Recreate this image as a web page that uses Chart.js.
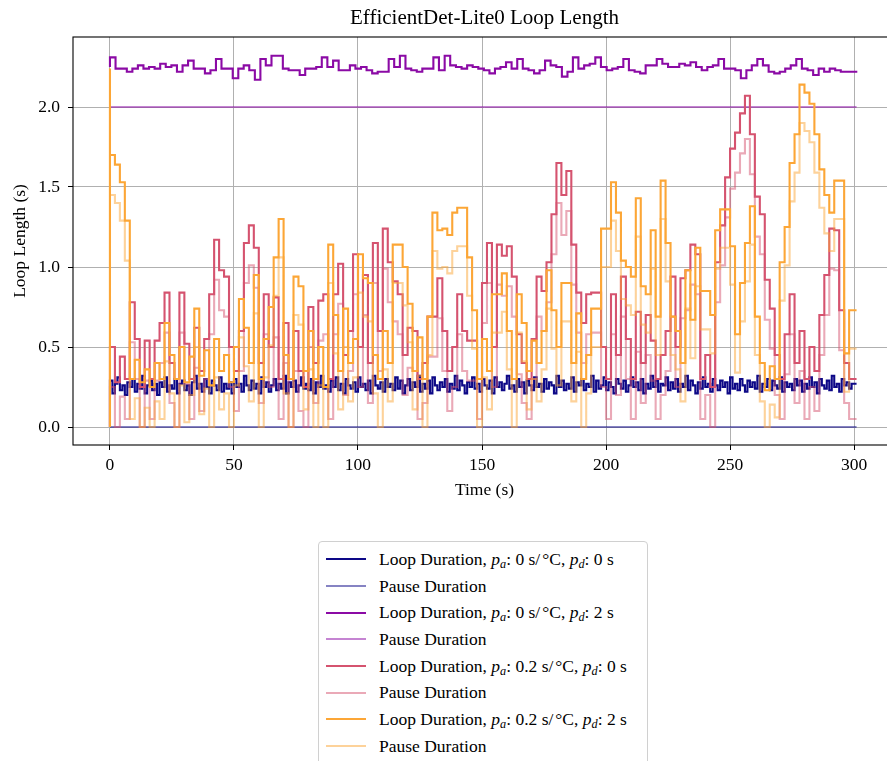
<!DOCTYPE html>
<html>
<head>
<meta charset="UTF-8">
<title>EfficientDet-Lite0 Loop Length</title>
<script src="https://cdn.jsdelivr.net/npm/chart.js"></script>
<style>
  body { margin: 0; background: #fff; }
  #wrap { position: relative; width: 887px; height: 761px; overflow: hidden; }
  #loopChart { position: absolute; left: 0; top: 0; }
  #legend {
    position: absolute; left: 318px; top: 541px; width: 330px; height: 240px;
    border: 1px solid #d0d0d0; border-radius: 4px; background: rgba(255,255,255,0.8);
    padding-top: 4px; box-sizing: border-box;
  }
  .row {
    height: 26.7px; display: flex; align-items: center; color: #000; white-space: nowrap;
    font-family: "Liberation Serif", "DejaVu Serif", serif; font-size: 17.5px;
  }
  .swatch { width: 40px; height: 0; border-top: 2.5px solid; margin: 0 13px 0 7px; }
  .row sub { font-size: 70%; font-style: italic; vertical-align: -0.25em; line-height: 0; }
  .deg { margin-left: 2px; }
</style>
</head>
<body>
<div id="wrap">
  <canvas id="loopChart" width="900" height="520"></canvas>
  <div id="legend"></div>
</div>
<script>
// tick positions
const xTicks = [0, 50, 100, 150, 200, 250, 300];
const yTicks = [0, 0.5, 1.0, 1.5, 2.0];

// p_a = 0, p_d = 0: loop length every second, pause is always 0
const navyStep = 1;
const navyLoop = [
  0.24,0.29,0.21,0.27,0.31,0.23,0.26,0.20,0.28,0.25,
  0.30,0.22,0.27,0.24,0.32,0.21,0.26,0.29,0.23,0.27,
  0.20,0.28,0.25,0.31,0.22,0.26,0.24,0.30,0.21,0.27,
  0.29,0.23,0.26,0.20,0.28,0.32,0.24,0.27,0.22,0.30,
  0.25,0.21,0.29,0.26,0.23,0.31,0.22,0.27,0.24,0.28,
  0.21,0.30,0.25,0.27,0.22,0.32,0.26,0.23,0.29,0.24,
  0.27,0.21,0.31,0.25,0.28,0.22,0.26,0.30,0.23,0.27,
  0.24,0.32,0.21,0.28,0.25,0.29,0.22,0.26,0.31,0.24,
  0.27,0.23,0.30,0.21,0.28,0.25,0.32,0.24,0.26,0.22,
  0.29,0.25,0.31,0.23,0.27,0.21,0.30,0.26,0.24,0.28,
  0.22,0.31,0.25,0.27,0.23,0.29,0.21,0.32,0.26,0.24,
  0.28,0.22,0.30,0.25,0.27,0.23,0.31,0.24,0.29,0.21,
  0.26,0.30,0.23,0.28,0.25,0.32,0.22,0.27,0.24,0.29,
  0.21,0.31,0.26,0.23,0.28,0.25,0.30,0.22,0.27,0.24,
  0.32,0.23,0.29,0.26,0.21,0.28,0.25,0.31,0.24,0.27,
  0.22,0.30,0.26,0.24,0.29,0.21,0.31,0.25,0.28,0.23,
  0.27,0.32,0.24,0.26,0.22,0.30,0.25,0.28,0.21,0.29,
  0.26,0.23,0.31,0.25,0.27,0.22,0.30,0.24,0.28,0.26,
  0.21,0.32,0.25,0.29,0.23,0.27,0.24,0.31,0.22,0.28,
  0.26,0.30,0.23,0.27,0.25,0.32,0.22,0.29,0.24,0.26,
  0.31,0.23,0.28,0.25,0.21,0.30,0.27,0.24,0.29,0.22,
  0.26,0.31,0.25,0.28,0.23,0.30,0.21,0.27,0.24,0.32,
  0.25,0.29,0.22,0.27,0.26,0.31,0.23,0.28,0.24,0.30,
  0.22,0.27,0.25,0.32,0.23,0.29,0.26,0.21,0.28,0.24,
  0.31,0.25,0.27,0.22,0.30,0.26,0.23,0.29,0.25,0.28,
  0.21,0.31,0.24,0.27,0.23,0.30,0.26,0.22,0.29,0.25,
  0.28,0.24,0.32,0.22,0.27,0.25,0.30,0.23,0.29,0.26,
  0.24,0.31,0.22,0.28,0.25,0.27,0.23,0.30,0.26,0.29,
  0.22,0.27,0.24,0.31,0.25,0.28,0.21,0.30,0.26,0.24,
  0.29,0.23,0.32,0.25,0.27,0.22,0.30,0.26,0.28,0.24,
  0.27
];
const constantSpan = [0, 301];
const navyPause = [0, 0];

// p_a = 0, p_d = 2: one value per loop, laid out back to back
const purpleLoop = [
  2.25,2.31,2.24,2.24,2.22,2.24,2.26,2.24,2.25,2.24,2.27,2.25,2.26,2.22,2.26,2.29,2.24,2.24,2.21,2.23,
  2.30,2.24,2.24,2.18,2.24,2.26,2.23,2.17,2.30,2.26,2.32,2.32,2.24,2.23,2.23,2.20,2.24,2.24,2.25,2.31,
  2.25,2.29,2.23,2.23,2.26,2.24,2.25,2.23,2.21,2.22,2.22,2.30,2.25,2.32,2.24,2.23,2.22,2.24,2.24,2.31,
  2.23,2.32,2.26,2.25,2.24,2.26,2.25,2.24,2.23,2.21,2.24,2.25,2.28,2.24,2.30,2.24,2.23,2.21,2.23,2.29,
  2.26,2.25,2.19,2.22,2.31,2.24,2.26,2.27,2.31,2.25,2.23,2.24,2.25,2.30,2.23,2.22,2.21,2.26,2.26,2.30,
  2.27,2.25,2.25,2.27,2.26,2.28,2.25,2.23,2.25,2.26,2.30,2.24,2.24,2.23,2.18,2.23,2.26,2.30,2.26,2.22,
  2.21,2.22,2.24,2.26,2.30,2.24,2.23,2.20,2.24,2.22,2.24,2.23,2.22,2.22
];
const purplePause = [2, 2];

// p_a = 0.2 s/°C runs, sampled every 2 s
const warmStep = 2;
const pinkLoop = [
  0.30,0.50,0.28,0.44,0.30,0.78,0.55,0.25,0.54,0.30,
  0.54,0.65,0.84,0.40,0.30,0.84,0.52,0.30,0.62,0.35,
  0.55,0.83,1.17,0.98,0.94,0.50,0.35,0.60,1.15,1.26,
  1.12,0.40,0.83,0.50,0.81,0.30,0.65,0.30,0.60,0.35,
  0.25,0.75,0.40,0.79,0.83,0.30,0.83,1.02,0.45,0.60,
  1.08,0.50,0.95,0.40,1.15,0.60,1.24,1.03,0.91,0.83,
  0.45,0.62,0.60,0.30,0.40,0.69,0.69,0.93,0.60,0.35,
  0.50,0.83,0.60,0.54,0.54,0.30,0.90,1.15,0.50,1.14,
  1.07,1.13,0.94,0.58,0.40,0.30,0.55,0.94,0.85,1.03,
  1.33,1.65,1.45,1.60,1.14,0.84,0.65,0.83,0.84,0.84,
  0.50,0.30,0.83,0.45,0.94,0.55,0.30,0.72,0.40,0.70,
  0.54,0.30,0.45,0.60,0.94,0.50,0.93,0.98,1.14,1.08,
  0.30,0.45,0.25,1.03,1.26,1.56,1.74,1.84,1.96,2.07,
  1.83,1.44,1.33,0.92,0.74,0.45,0.30,0.58,0.83,0.40,
  0.60,0.30,0.50,0.35,0.70,0.95,1.24,1.23,0.73,0.40,
  0.30
];
const pinkPause = [
  0.05,0.25,0.00,0.19,0.05,0.53,0.30,0.00,0.29,0.05,
  0.29,0.40,0.59,0.15,0.00,0.59,0.27,0.05,0.37,0.10,
  0.30,0.58,0.92,0.73,0.69,0.25,0.10,0.35,0.90,1.01,
  0.87,0.15,0.58,0.25,0.56,0.05,0.40,0.00,0.35,0.10,
  0.00,0.50,0.15,0.54,0.58,0.05,0.58,0.77,0.20,0.35,
  0.83,0.25,0.70,0.15,0.90,0.35,0.99,0.78,0.66,0.58,
  0.20,0.37,0.35,0.05,0.15,0.44,0.44,0.68,0.35,0.10,
  0.25,0.58,0.35,0.29,0.29,0.05,0.65,0.90,0.25,0.89,
  0.82,0.88,0.69,0.33,0.15,0.05,0.30,0.69,0.60,0.78,
  1.08,1.40,1.20,1.35,0.89,0.59,0.40,0.58,0.59,0.59,
  0.25,0.05,0.58,0.20,0.69,0.30,0.05,0.47,0.15,0.45,
  0.29,0.05,0.20,0.35,0.69,0.25,0.68,0.73,0.89,0.83,
  0.05,0.20,0.00,0.78,1.01,1.31,1.49,1.59,1.71,1.80,
  1.58,1.19,1.08,0.67,0.49,0.20,0.05,0.33,0.58,0.15,
  0.35,0.05,0.25,0.10,0.45,0.70,0.99,0.98,0.48,0.15,
  0.05
];
const orangeLoop = [
  2.24,1.70,1.64,1.53,1.29,0.30,0.42,0.28,0.36,0.25,
  0.40,0.30,0.65,0.45,0.30,0.50,0.28,0.44,0.74,0.32,
  0.48,0.26,0.55,0.35,0.45,0.28,0.50,0.80,0.62,0.40,
  0.95,0.30,0.55,0.75,1.06,1.30,0.45,0.30,0.94,0.88,
  0.35,0.60,0.30,0.50,0.25,1.14,0.70,0.35,0.74,0.40,
  0.55,1.08,0.93,0.90,0.45,0.30,0.60,0.40,1.14,1.14,
  1.00,0.77,0.35,0.56,0.30,0.69,1.34,1.23,1.24,1.20,
  1.34,1.37,1.37,1.06,0.73,0.30,0.55,0.35,0.83,0.83,
  0.96,0.60,0.30,0.83,0.65,0.35,0.54,0.40,0.60,0.98,
  0.73,0.50,0.90,0.90,0.40,0.71,0.30,0.45,0.74,0.74,
  1.24,1.24,1.53,1.34,1.04,1.00,0.94,1.43,0.88,0.83,
  1.23,0.69,1.54,1.15,0.69,0.60,0.40,0.98,0.67,1.12,
  0.85,0.85,0.70,1.23,1.36,1.36,1.13,0.58,0.90,1.15,
  1.38,0.69,0.40,0.23,0.38,0.30,1.03,1.25,1.65,1.83,
  2.14,2.09,2.02,1.83,1.61,1.45,1.34,1.54,1.54,0.46,
  0.73
];
const orangePause = [
  2.00,1.45,1.40,1.29,1.04,0.05,0.18,0.00,0.12,0.00,
  0.16,0.05,0.41,0.21,0.00,0.26,0.03,0.20,0.50,0.08,
  0.24,0.00,0.31,0.11,0.21,0.00,0.26,0.56,0.38,0.16,
  0.71,0.00,0.31,0.51,0.82,1.06,0.21,0.00,0.70,0.64,
  0.11,0.36,0.00,0.26,0.00,0.90,0.46,0.11,0.50,0.16,
  0.31,0.84,0.69,0.66,0.21,0.00,0.36,0.16,0.90,0.90,
  0.76,0.53,0.11,0.32,0.00,0.45,1.10,0.99,1.00,0.96,
  1.10,1.13,1.13,0.82,0.49,0.00,0.31,0.11,0.59,0.59,
  0.72,0.36,0.00,0.59,0.41,0.11,0.30,0.16,0.36,0.74,
  0.49,0.26,0.66,0.66,0.16,0.47,0.00,0.21,0.50,0.50,
  1.00,1.00,1.29,1.10,0.80,0.76,0.70,1.19,0.64,0.59,
  0.99,0.45,1.30,0.91,0.45,0.36,0.16,0.74,0.43,0.88,
  0.61,0.61,0.46,0.99,1.12,1.12,0.89,0.34,0.66,0.91,
  1.14,0.45,0.16,0.00,0.14,0.06,0.79,1.01,1.41,1.59,
  1.90,1.85,1.78,1.59,1.37,1.21,1.10,1.30,1.30,0.22,
  0.49
];
const endTime = 301;

const SERIF = '"Liberation Serif", "DejaVu Serif", serif';
const colors = ['#0d0887', '#8b0aa5', '#d5536f', '#fca636'];
const faded = ['rgba(13,8,135,0.5)', 'rgba(139,10,165,0.5)', 'rgba(213,83,111,0.5)', 'rgba(252,166,54,0.5)'];

// fixed-interval samples, starting from zero at t = 0
function gridSteps(values, dt) {
  const pts = [{ x: 0, y: 0 }];
  values.forEach((v, i) => pts.push({ x: i * dt, y: v }));
  pts.push({ x: endTime, y: values[values.length - 1] });
  return pts;
}
// each loop starts where the previous one ended
function loopSteps(values) {
  const pts = [];
  let t = 0;
  values.forEach(v => { pts.push({ x: t, y: v }); t += v; });
  pts.push({ x: t, y: values[values.length - 1] });
  return pts;
}
function spanSteps(times, values) {
  return times.map((t, i) => ({ x: t, y: values[i] }));
}

const pa = v => `<i>p</i><sub>a</sub>: ${v} s/<span class="deg">°</span>C`;
const pd = v => `<i>p</i><sub>d</sub>: ${v} s`;
const series = [
  { label: `Loop Duration, ${pa(0)}, ${pd(0)}`, data: gridSteps(navyLoop, navyStep), color: colors[0] },
  { label: 'Pause Duration', data: spanSteps(constantSpan, navyPause), color: faded[0] },
  { label: `Loop Duration, ${pa(0)}, ${pd(2)}`, data: loopSteps(purpleLoop), color: colors[1] },
  { label: 'Pause Duration', data: spanSteps(constantSpan, purplePause), color: faded[1] },
  { label: `Loop Duration, ${pa(0.2)}, ${pd(0)}`, data: gridSteps(pinkLoop, warmStep), color: colors[2] },
  { label: 'Pause Duration', data: gridSteps(pinkPause, warmStep), color: faded[2] },
  { label: `Loop Duration, ${pa(0.2)}, ${pd(2)}`, data: gridSteps(orangeLoop, warmStep), color: colors[3] },
  { label: 'Pause Duration', data: gridSteps(orangePause, warmStep), color: faded[3] }
];

// later series sit on top
const datasets = series.map((s, i) => ({
  data: s.data,
  borderColor: s.color,
  borderWidth: 2.1,
  stepped: 'after',
  pointRadius: 0,
  fill: false,
  order: series.length - i
}));

const frameAndLabels = {
  id: 'frameAndLabels',
  afterDraw(chart) {
    const { ctx, chartArea: a } = chart;
    ctx.save();
    ctx.strokeStyle = '#000';
    ctx.lineWidth = 1.1;
    ctx.strokeRect(a.left, a.top, a.right - a.left, a.bottom - a.top);
    ctx.fillStyle = '#000';
    ctx.textAlign = 'center';
    ctx.textBaseline = 'middle';
    const cx = (a.left + a.right) / 2;
    ctx.font = '21px ' + SERIF;
    ctx.fillText('EfficientDet-Lite0 Loop Length', cx, 18);
    ctx.font = '17.5px ' + SERIF;
    ctx.fillText('Time (s)', cx, 490);
    ctx.translate(20, (a.top + a.bottom) / 2);
    ctx.rotate(-Math.PI / 2);
    ctx.fillText('Loop Length (s)', 0, 0);
    ctx.restore();
  }
};

const tickFont = { family: SERIF, size: 17.5 };
new Chart(document.getElementById('loopChart'), {
  type: 'line',
  data: { datasets },
  options: {
    responsive: false,
    animation: false,
    layout: { padding: { top: 37, right: 4, left: 0, bottom: 0 } },
    plugins: { legend: { display: false }, tooltip: { enabled: false }, title: { display: false } },
    scales: {
      x: {
        type: 'linear', min: -14.9, max: 316.9,
        afterBuildTicks: s => { s.ticks = xTicks.map(v => ({ value: v })); },
        afterFit: s => { s.height = 75; },
        grid: { color: '#b0b0b0', lineWidth: 1, tickColor: '#000', tickLength: 5 },
        border: { display: false },
        ticks: { font: tickFont, color: '#000', padding: 5, maxRotation: 0, callback: v => String(v) }
      },
      y: {
        type: 'linear', min: -0.1125, max: 2.4375,
        afterBuildTicks: s => { s.ticks = yTicks.map(v => ({ value: v })); },
        afterFit: s => { s.width = 73; },
        grid: { color: '#b0b0b0', lineWidth: 1, tickColor: '#000', tickLength: 5 },
        border: { display: false },
        ticks: { font: tickFont, color: '#000', padding: 8, callback: v => v.toFixed(1) }
      }
    }
  },
  plugins: [frameAndLabels]
});

// legend below the axes
const legend = document.getElementById('legend');
series.forEach(s => {
  const row = document.createElement('div');
  row.className = 'row';
  row.innerHTML = `<span class="swatch" style="border-top-color:${s.color}"></span><span>${s.label}</span>`;
  legend.appendChild(row);
});
</script>
</body>
</html>
